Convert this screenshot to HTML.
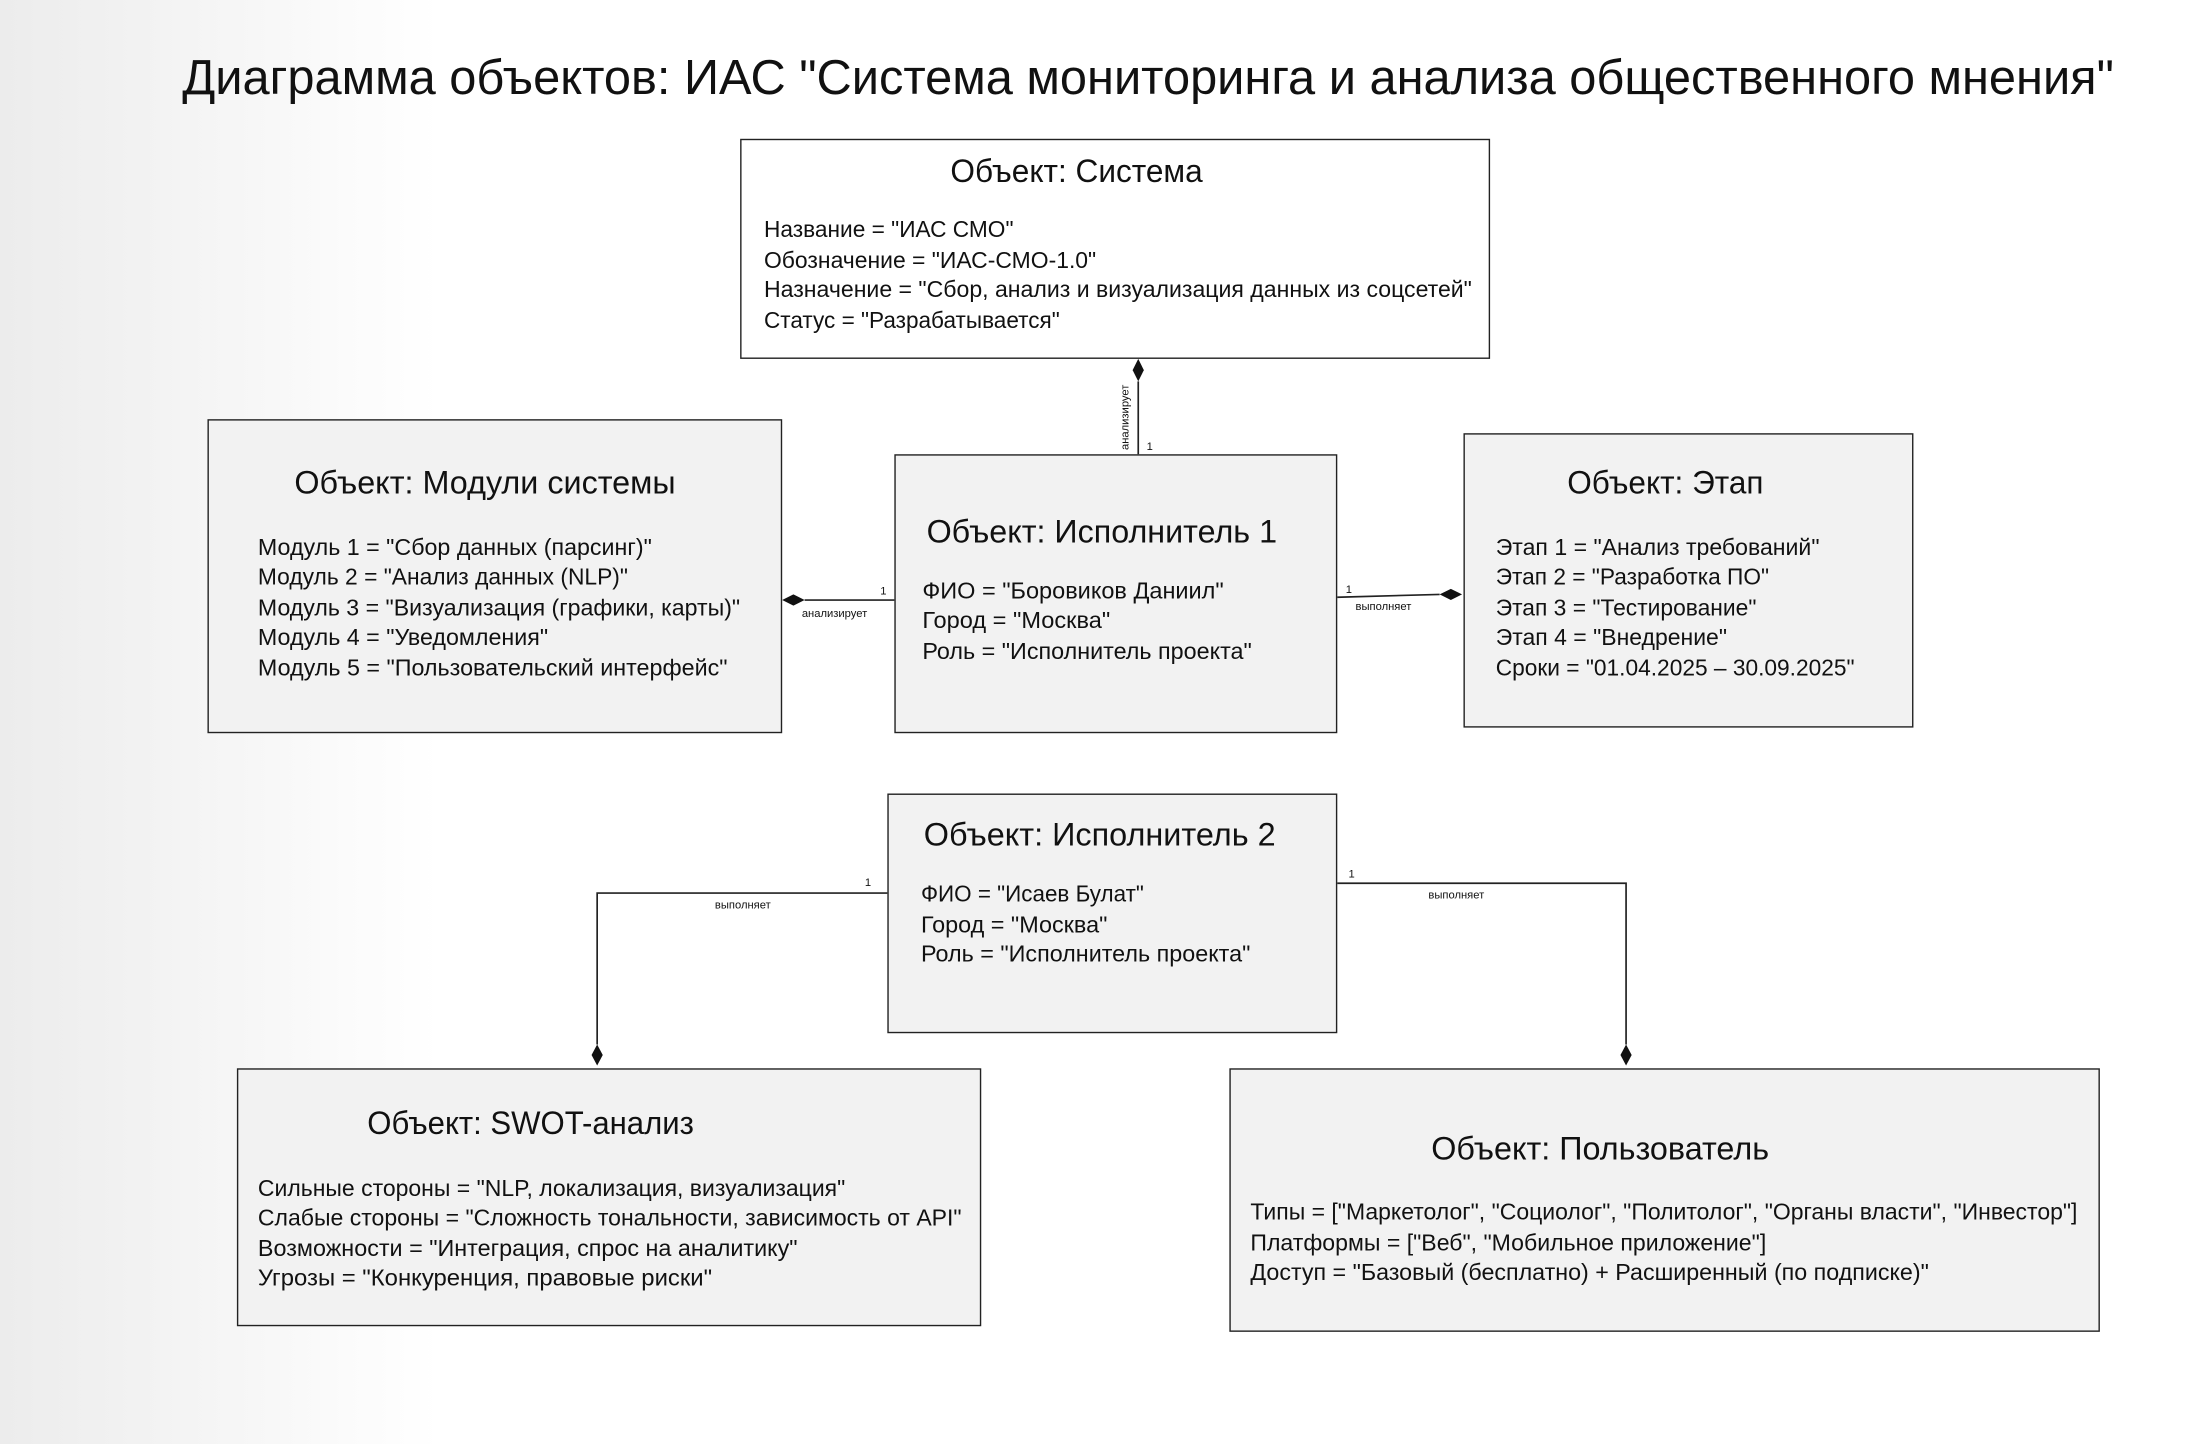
<!DOCTYPE html>
<html><head><meta charset="utf-8"><style>
html,body{margin:0;padding:0;background:#fff}
svg{display:block}
text{font-family:"Liberation Sans","Noto Sans CJK SC",sans-serif;fill:#111}
.t{font-size:23px}
.a{font-size:16.5px}
.s{font-size:8px}
</style></head><body>
<svg width="2198" height="1444" viewBox="0 0 1568 1030" preserveAspectRatio="none" xmlns="http://www.w3.org/2000/svg">
<defs>
<linearGradient id="bg" x1="0" y1="0" x2="1" y2="0">
<stop offset="0" stop-color="#ececec"/><stop offset="0.2" stop-color="#ffffff"/><stop offset="1" stop-color="#ffffff"/>
</linearGradient>
</defs>
<rect x="0" y="0" width="1568" height="1030" fill="url(#bg)"/>
<text x="130" y="67" font-size="35" textLength="1378" lengthAdjust="spacingAndGlyphs">Диаграмма объектов: ИАС "Система мониторинга и анализа общественного мнения"</text>

<g stroke="#222" stroke-width="1">
<rect x="528.5" y="99.5" width="534" height="156" fill="#fff"/>
<rect x="148.5" y="299.5" width="409" height="223" fill="#f2f2f2"/>
<rect x="638.5" y="324.5" width="315" height="198" fill="#f2f2f2"/>
<rect x="1044.5" y="309.5" width="320" height="209" fill="#f2f2f2"/>
<rect x="633.5" y="566.5" width="320" height="170" fill="#f2f2f2"/>
<rect x="169.5" y="762.5" width="530" height="183" fill="#f2f2f2"/>
<rect x="877.5" y="762.5" width="620" height="187" fill="#f2f2f2"/>
</g>

<g stroke="#222" stroke-width="1.2" fill="none">
<line x1="812" y1="272" x2="812" y2="324"/>
<line x1="574" y1="428" x2="638" y2="428"/>
<line x1="954" y1="426" x2="1027" y2="424"/>
<polyline points="633,637 426,637 426,745"/>
<polyline points="954,630 1160,630 1160,745"/>
</g>
<g fill="#111">
<polygon points="812,256 816,264 812,272 808,264"/>
<polygon points="558,428 566,424 574,428 566,432"/>
<polygon points="1027,424 1035,420 1043,424 1035,428"/>
<polygon points="426,745 430,752.5 426,760 422,752.5"/>
<polygon points="1160,745 1164,752.5 1160,760 1156,752.5"/>
</g>
<text class="s" x="0" y="0" transform="translate(805,321) rotate(-90)">анализирует</text>
<text class="s" x="818" y="321">1</text>
<text class="s" x="628" y="424">1</text>
<text class="s" x="572" y="440">анализирует</text>
<text class="s" x="960" y="423">1</text>
<text class="s" x="967" y="435">выполняет</text>
<text class="s" x="617" y="632">1</text>
<text class="s" x="510" y="648">выполняет</text>
<text class="s" x="962" y="626">1</text>
<text class="s" x="1019" y="641">выполняет</text>

<text class="t" x="678" y="130" textLength="180" lengthAdjust="spacingAndGlyphs">Объект: Система</text>
<text class="a" x="545" y="169" textLength="178" lengthAdjust="spacingAndGlyphs">Название = "ИАС СМО"</text>
<text class="a" x="545" y="191" textLength="237" lengthAdjust="spacingAndGlyphs">Обозначение = "ИАС-СМО-1.0"</text>
<text class="a" x="545" y="212" textLength="505" lengthAdjust="spacingAndGlyphs">Назначение = "Сбор, анализ и визуализация данных из соцсетей"</text>
<text class="a" x="545" y="234" textLength="211" lengthAdjust="spacingAndGlyphs">Статус = "Разрабатывается"</text>

<text class="t" x="210" y="352" textLength="272" lengthAdjust="spacingAndGlyphs">Объект: Модули системы</text>
<text class="a" x="184" y="396" textLength="281" lengthAdjust="spacingAndGlyphs">Модуль 1 = "Сбор данных (парсинг)"</text>
<text class="a" x="184" y="417" textLength="264" lengthAdjust="spacingAndGlyphs">Модуль 2 = "Анализ данных (NLP)"</text>
<text class="a" x="184" y="439" textLength="344" lengthAdjust="spacingAndGlyphs">Модуль 3 = "Визуализация (графики, карты)"</text>
<text class="a" x="184" y="460" textLength="207" lengthAdjust="spacingAndGlyphs">Модуль 4 = "Уведомления"</text>
<text class="a" x="184" y="482" textLength="335" lengthAdjust="spacingAndGlyphs">Модуль 5 = "Пользовательский интерфейс"</text>

<text class="t" x="661" y="387" textLength="250" lengthAdjust="spacingAndGlyphs">Объект: Исполнитель 1</text>
<text class="a" x="658" y="427" textLength="215" lengthAdjust="spacingAndGlyphs">ФИО = "Боровиков Даниил"</text>
<text class="a" x="658" y="448" textLength="134" lengthAdjust="spacingAndGlyphs">Город = "Москва"</text>
<text class="a" x="658" y="470" textLength="235" lengthAdjust="spacingAndGlyphs">Роль = "Исполнитель проекта"</text>

<text class="t" x="1118" y="352" textLength="140" lengthAdjust="spacingAndGlyphs">Объект: Этап</text>
<text class="a" x="1067" y="396" textLength="231" lengthAdjust="spacingAndGlyphs">Этап 1 = "Анализ требований"</text>
<text class="a" x="1067" y="417" textLength="195" lengthAdjust="spacingAndGlyphs">Этап 2 = "Разработка ПО"</text>
<text class="a" x="1067" y="439" textLength="186" lengthAdjust="spacingAndGlyphs">Этап 3 = "Тестирование"</text>
<text class="a" x="1067" y="460" textLength="165" lengthAdjust="spacingAndGlyphs">Этап 4 = "Внедрение"</text>
<text class="a" x="1067" y="482" textLength="256" lengthAdjust="spacingAndGlyphs">Сроки = "01.04.2025 – 30.09.2025"</text>

<text class="t" x="659" y="603" textLength="251" lengthAdjust="spacingAndGlyphs">Объект: Исполнитель 2</text>
<text class="a" x="657" y="643" textLength="159" lengthAdjust="spacingAndGlyphs">ФИО = "Исаев Булат"</text>
<text class="a" x="657" y="665" textLength="133" lengthAdjust="spacingAndGlyphs">Город = "Москва"</text>
<text class="a" x="657" y="686" textLength="235" lengthAdjust="spacingAndGlyphs">Роль = "Исполнитель проекта"</text>

<text class="t" x="262" y="809" textLength="233" lengthAdjust="spacingAndGlyphs">Объект: SWOT-анализ</text>
<text class="a" x="184" y="853" textLength="419" lengthAdjust="spacingAndGlyphs">Сильные стороны = "NLP, локализация, визуализация"</text>
<text class="a" x="184" y="874" textLength="502" lengthAdjust="spacingAndGlyphs">Слабые стороны = "Сложность тональности, зависимость от API"</text>
<text class="a" x="184" y="896" textLength="385" lengthAdjust="spacingAndGlyphs">Возможности = "Интеграция, спрос на аналитику"</text>
<text class="a" x="184" y="917" textLength="324" lengthAdjust="spacingAndGlyphs">Угрозы = "Конкуренция, правовые риски"</text>

<text class="t" x="1021" y="827" textLength="241" lengthAdjust="spacingAndGlyphs">Объект: Пользователь</text>
<text class="a" x="892" y="870" textLength="590" lengthAdjust="spacingAndGlyphs">Типы = ["Маркетолог", "Социолог", "Политолог", "Органы власти", "Инвестор"]</text>
<text class="a" x="892" y="892" textLength="368" lengthAdjust="spacingAndGlyphs">Платформы = ["Веб", "Мобильное приложение"]</text>
<text class="a" x="892" y="913" textLength="484" lengthAdjust="spacingAndGlyphs">Доступ = "Базовый (бесплатно) + Расширенный (по подписке)"</text>
</svg>
</body></html>
